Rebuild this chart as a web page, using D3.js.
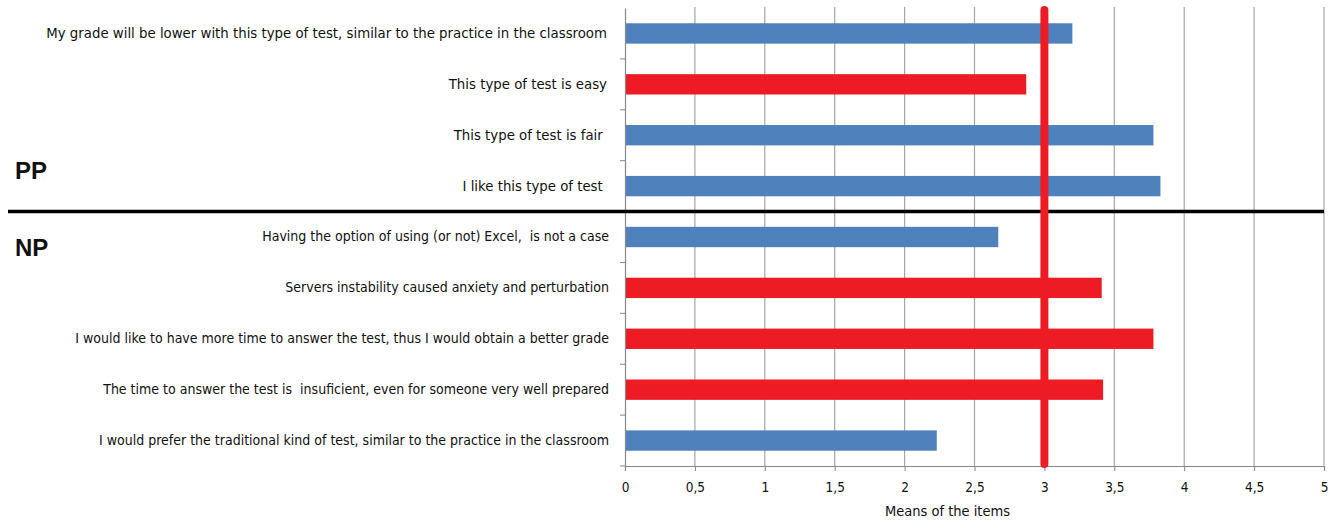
<!DOCTYPE html>
<html>
<head>
<meta charset="utf-8">
<script src="https://cdn.jsdelivr.net/npm/d3@7"></script>
<style>
  body { margin: 0; background: #fff; }
  text { font-family: "DejaVu Sans Condensed", "DejaVu Sans", sans-serif; fill: #111; }
</style>
</head>
<body>
<div id="chart"></div>
<script>
// Items, top to bottom
var items = [
  "My grade will be lower with this type of test, similar to the practice in the classroom",
  "This type of test is easy",
  "This type of test is fair ",
  "I like this type of test ",
  "Having the option of using (or not) Excel,  is not a case",
  "Servers instability caused anxiety and perturbation",
  "I would like to have more time to answer the test, thus I would obtain a better grade",
  "The time to answer the test is  insuficient, even for someone very well prepared",
  "I would prefer the traditional kind of test, similar to the practice in the classroom"
];
// Mean of each item
var means = [3.2, 2.87, 3.78, 3.83, 2.67, 3.41, 3.78, 3.42, 2.23];
// Which colour group each bar is in
var groups = ["blue", "red", "blue", "blue", "blue", "red", "red", "red", "blue"];
// PP items first, NP items after
var sections = ["PP", "PP", "PP", "PP", "NP", "NP", "NP", "NP", "NP"];
var xTicks = [0, 0.5, 1, 1.5, 2, 2.5, 3, 3.5, 4, 4.5, 5];
var refValue = 3;

var colors = { blue: "#4F81BD", red: "#ED1C24" };

var svgWidth = 1333;
var svgHeight = 520;
var margin = { top: 8, right: 9, bottom: 54, left: 625 };
var chartWidth = svgWidth - margin.left - margin.right;
var chartHeight = svgHeight - margin.top - margin.bottom;

var svg = d3.select("#chart")
  .append("svg")
  .attr("width", svgWidth)
  .attr("height", svgHeight);

var chartGroup = svg.append("g")
  .attr("transform", `translate(${margin.left}, ${margin.top})`);

var xScale = d3.scaleLinear()
  .domain([0, 5])
  .range([0, chartWidth]);

var yScale = d3.scaleBand()
  .domain(items)
  .range([0, chartHeight])
  .padding(0);

// vertical gridlines
chartGroup.append("g")
  .selectAll("line")
  .data(xTicks.slice(1))
  .join("line")
  .attr("x1", d => xScale(d))
  .attr("x2", d => xScale(d))
  .attr("y1", -1)
  .attr("y2", chartHeight)
  .attr("stroke", "#a6a6a6")
  .attr("stroke-width", 1.2);

// bars
chartGroup.append("g")
  .selectAll("rect")
  .data(items)
  .join("rect")
  .attr("x", 0)
  .attr("y", d => yScale(d) + yScale.bandwidth() * 0.3)
  .attr("width", (d, i) => xScale(means[i]))
  .attr("height", yScale.bandwidth() * 0.4)
  .attr("fill", (d, i) => colors[groups[i]]);

// left axis with labels
var leftAxis = d3.axisLeft(yScale).tickSize(0).tickPadding(16);
var ly = chartGroup.append("g").call(leftAxis);
ly.select(".domain").attr("stroke", "#888").attr("stroke-width", 1.2);
ly.selectAll(".tick text")
  .attr("font-size", (d, i) => sections[i] === "PP" ? "14.8px" : "14px")
  .attr("dx", (d, i) => sections[i] === "PP" ? -2 : 0)
  .style("font-family", "'DejaVu Sans Condensed', sans-serif")
  .style("white-space", "pre")
  .attr("fill", "#111");

// boundary tick marks on left axis
chartGroup.append("g")
  .selectAll("line")
  .data(items.slice(1).concat(["end"]))
  .join("line")
  .attr("x1", -5)
  .attr("x2", 0)
  .attr("y1", d => d === "end" ? chartHeight : yScale(d))
  .attr("y2", d => d === "end" ? chartHeight : yScale(d))
  .attr("stroke", "#888");

// bottom axis
var bottomAxis = d3.axisBottom(xScale)
  .tickValues(xTicks)
  .tickSize(5)
  .tickPadding(11)
  .tickFormat(d => String(d).replace(".", ","));
var bx = chartGroup.append("g")
  .attr("transform", `translate(0, ${chartHeight})`)
  .call(bottomAxis);
bx.select(".domain").attr("stroke", "#888").attr("stroke-width", 1.2);
bx.selectAll(".tick line").attr("stroke", "#888");
bx.selectAll(".tick text")
  .attr("font-size", "13.5px")
  .style("font-family", "'DejaVu Sans Condensed', sans-serif")
  .attr("fill", "#111");

// x axis title
chartGroup.append("text")
  .attr("x", chartWidth / 2 - 27)
  .attr("y", chartHeight + 50)
  .attr("text-anchor", "middle")
  .attr("font-size", "14.5px")
  .text("Means of the items");

// separator between PP and NP
chartGroup.append("line")
  .attr("x1", 8 - margin.left)
  .attr("x2", chartWidth)
  .attr("y1", yScale(items[4]))
  .attr("y2", yScale(items[4]))
  .attr("stroke", "#000")
  .attr("stroke-width", 3.5);

// reference line at 3
chartGroup.append("line")
  .attr("x1", xScale(refValue))
  .attr("x2", xScale(refValue))
  .attr("y1", 2)
  .attr("y2", chartHeight - 2)
  .attr("stroke", colors.red)
  .attr("stroke-width", 8)
  .attr("stroke-linecap", "round");

// group labels
svg.append("text")
  .attr("x", 15)
  .attr("y", 179)
  .attr("font-size", "24px")
  .attr("font-weight", "bold")
  .style("font-family", "'Liberation Sans', Arial, sans-serif")
  .text("PP");

svg.append("text")
  .attr("x", 15)
  .attr("y", 256)
  .attr("font-size", "24px")
  .attr("font-weight", "bold")
  .style("font-family", "'Liberation Sans', Arial, sans-serif")
  .text("NP");
</script>
</body>
</html>
